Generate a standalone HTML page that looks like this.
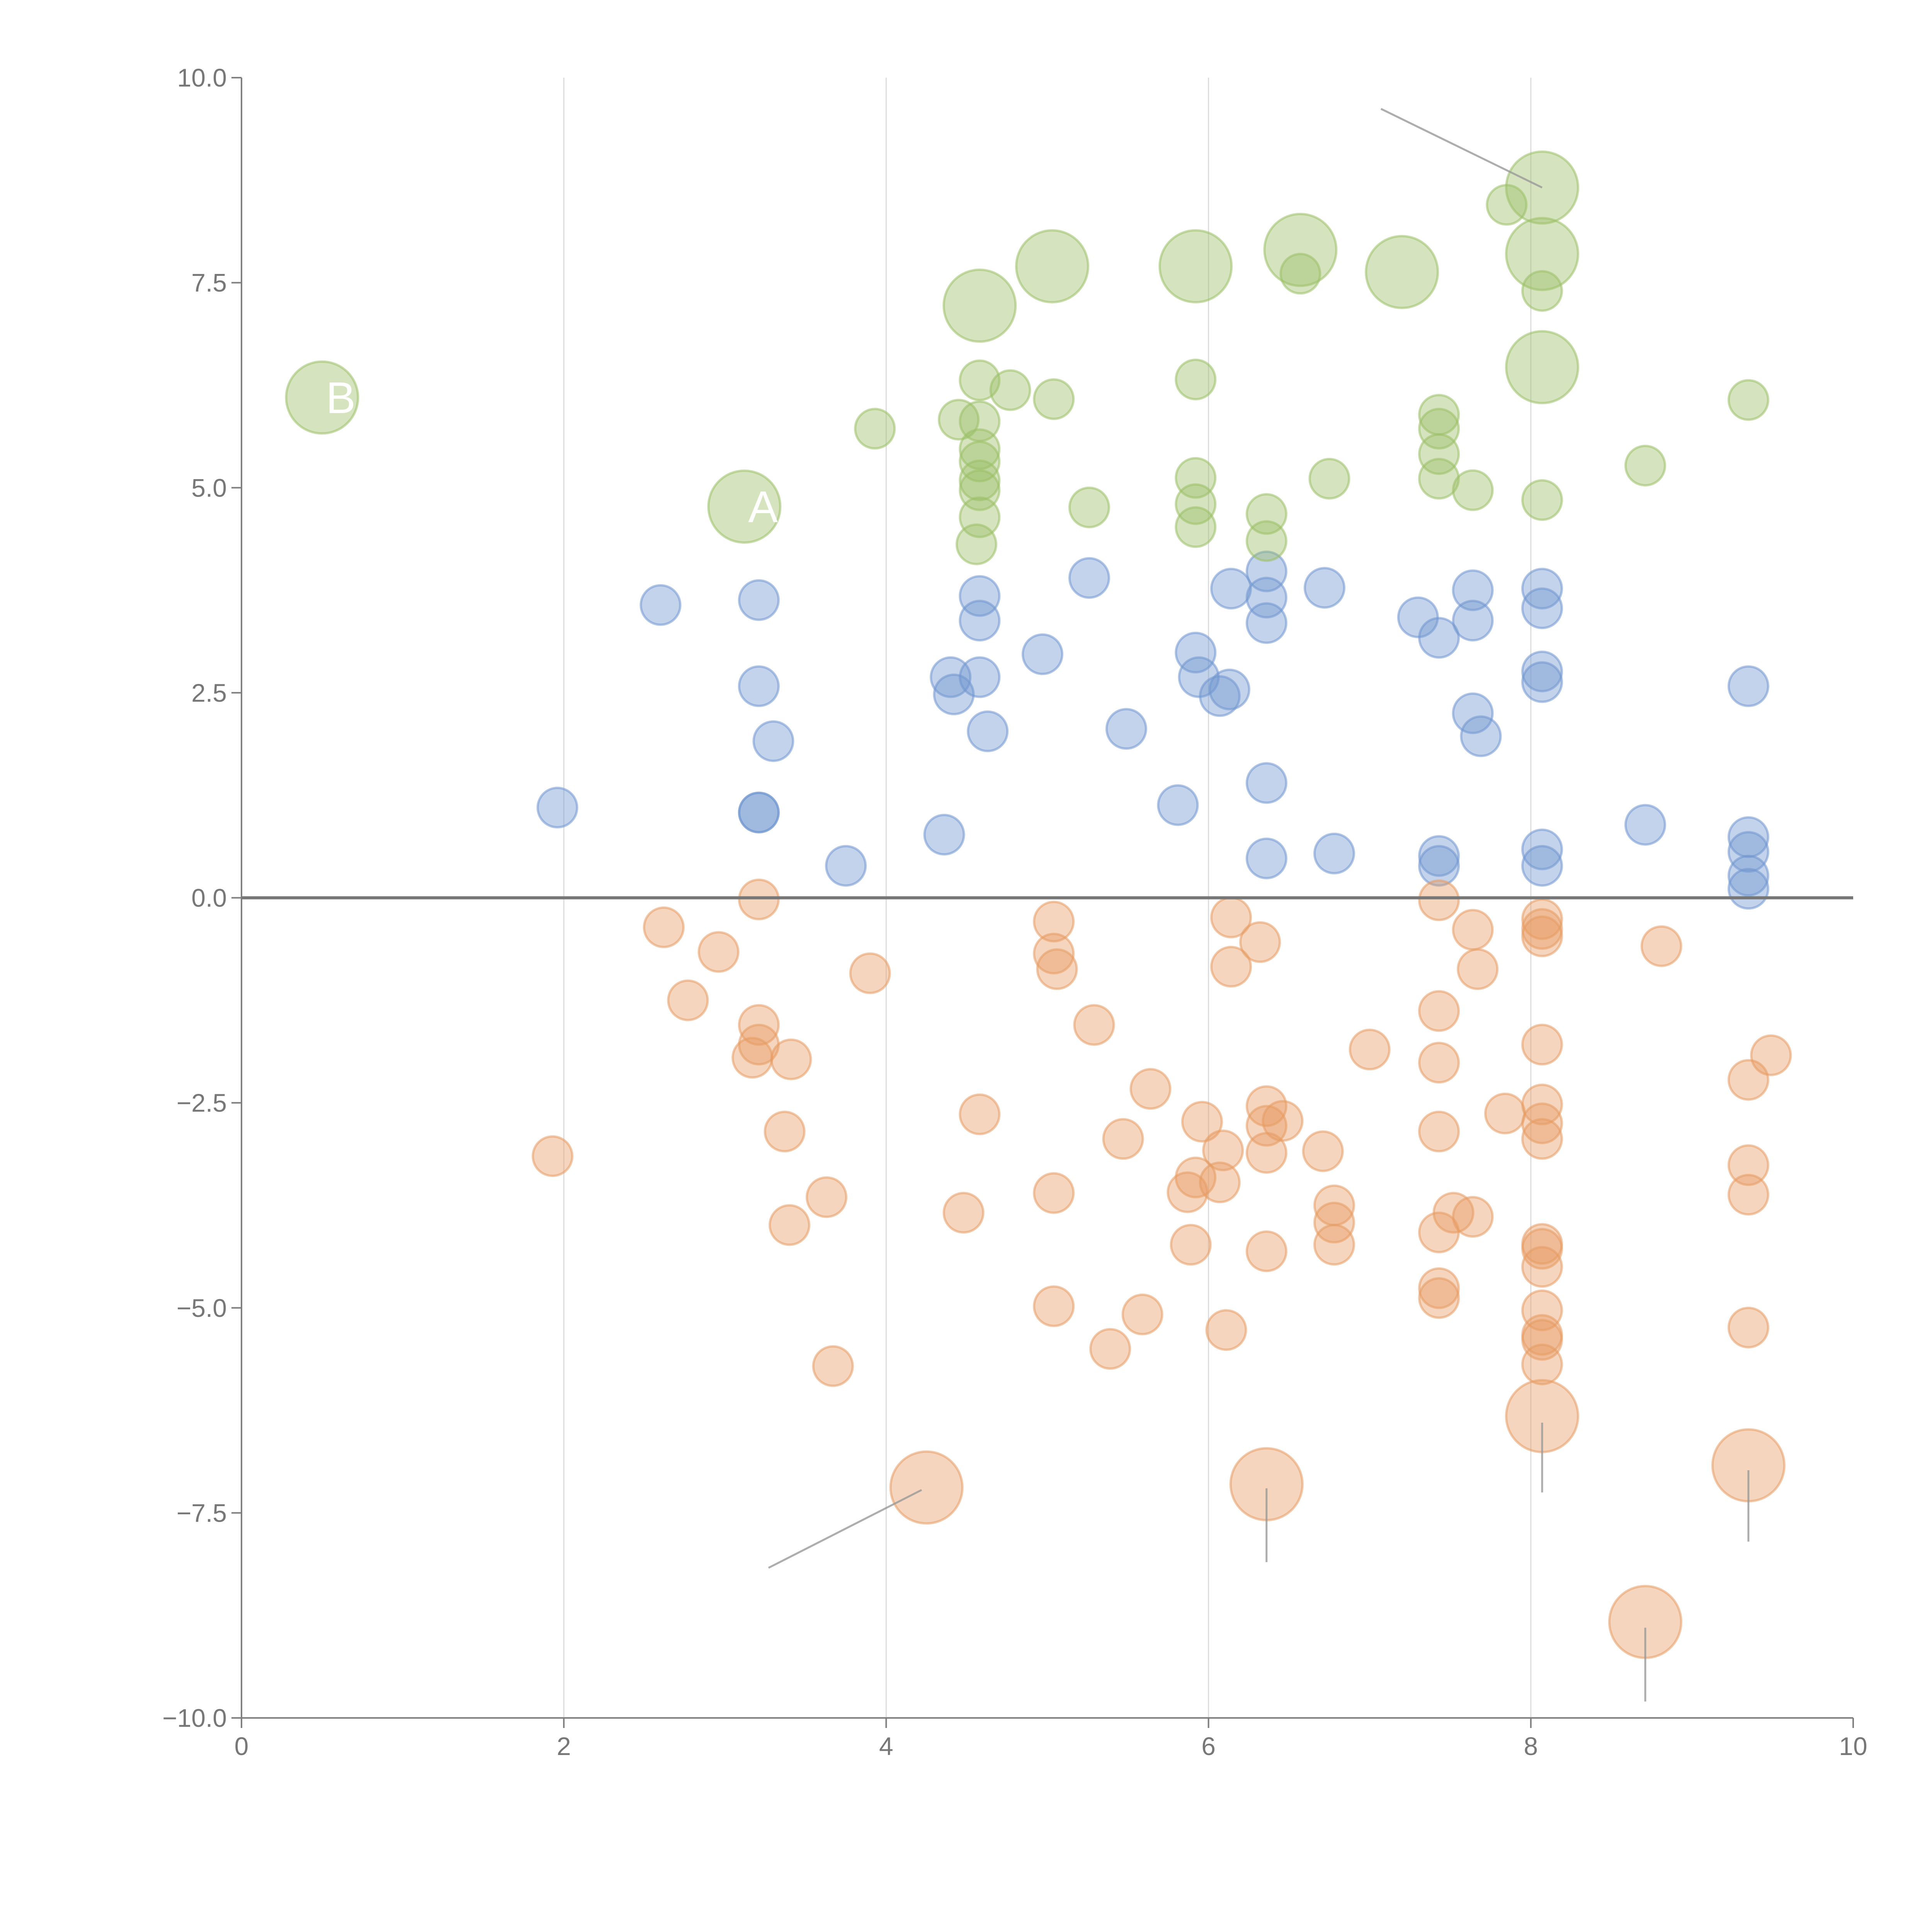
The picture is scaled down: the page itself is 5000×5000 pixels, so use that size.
<!DOCTYPE html>
<html><head><meta charset="utf-8"><style>html,body{margin:0;padding:0;background:#fff}svg{display:block}</style></head>
<body>
<svg id="chart" width="5000" height="5000" viewBox="0 0 5000 5000" xmlns="http://www.w3.org/2000/svg" font-family="Liberation Sans, Arial, sans-serif"></svg>
<script>
const xTicks=[0,2,4,6,8,10];
const yTicks=[-10,-7.5,-5,-2.5,0,2.5,5,7.5,10];
const yTickLabels=["\u221210.0","\u22127.5","\u22125.0","\u22122.5","0.0","2.5","5.0","7.5","10.0"];
const greenX=[3.93,4.45,4.58,4.77,4.58,4.58,4.58,4.58,4.58,4.58,4.56,5.04,5.26,5.92,5.92,5.92,5.92,6.36,6.36,6.75,6.57,7.43,7.43,7.43,7.43,7.64,7.85,8.07,8.07,8.71,9.35];
const greenY=[5.72,5.83,6.31,6.19,5.81,5.47,5.32,5.09,4.97,4.64,4.31,6.08,4.76,6.32,5.12,4.80,4.52,4.68,4.35,5.11,7.61,5.89,5.72,5.41,5.11,4.97,8.45,7.40,4.85,5.27,6.07];
const greenBigX=[0.50,3.12,4.58,5.03,5.92,6.57,7.20,8.07,8.07,8.07];
const greenBigY=[6.10,4.77,7.22,7.70,7.70,7.90,7.63,8.66,7.85,6.47];
const blueX=[2.60,3.21,3.21,3.30,1.96,3.21,3.21,3.75,4.36,4.40,4.42,4.58,4.58,4.58,4.63,4.97,5.26,5.49,5.81,5.92,5.94,6.07,6.14,6.13,6.36,6.36,6.36,6.36,6.36,6.72,6.78,7.30,7.43,7.43,7.43,7.64,7.64,7.64,7.69,8.07,8.07,8.07,8.07,8.07,8.07,8.71,9.35,9.35,9.35,9.35,9.35];
const blueY=[3.57,3.63,2.58,1.91,1.10,1.04,1.04,0.39,0.77,2.69,2.48,3.68,3.38,2.69,2.03,2.97,3.90,2.06,1.13,2.99,2.69,2.46,3.77,2.54,3.98,3.66,3.35,1.40,0.48,3.78,0.54,3.42,3.17,0.51,0.39,3.75,3.38,2.25,1.97,3.77,3.53,2.76,2.63,0.59,0.39,0.89,2.58,0.74,0.56,0.27,0.11];
const orangeX=[2.62,3.21,2.96,2.77,3.21,3.21,3.17,3.41,3.37,3.40,3.63,3.67,3.90,1.93,4.48,4.58,5.04,5.04,5.06,5.29,5.04,5.04,5.47,5.39,5.59,5.64,5.96,5.92,5.87,5.89,6.09,6.07,6.11,6.14,6.14,6.32,6.36,6.36,6.36,6.46,6.36,6.71,6.78,6.78,6.78,7.00,7.43,7.43,7.43,7.43,7.43,7.52,7.43,7.43,7.64,7.67,7.64,7.84,8.07,8.07,8.07,8.07,8.07,8.07,8.07,8.07,8.07,8.07,8.07,8.07,8.07,8.07,8.81,9.35,9.49,9.35,9.35,9.35];
const orangeY=[-0.36,-0.02,-0.66,-1.25,-1.55,-1.79,-1.95,-1.97,-2.85,-3.99,-3.65,-5.71,-0.92,-3.15,-3.84,-2.64,-0.29,-0.68,-0.87,-1.55,-3.60,-4.98,-2.94,-5.50,-5.08,-2.33,-2.73,-3.41,-3.59,-4.23,-3.08,-3.47,-5.27,-0.24,-0.84,-0.54,-2.54,-2.78,-3.11,-2.72,-4.31,-3.09,-3.75,-3.96,-4.23,-1.85,-0.03,-1.38,-2.01,-2.85,-4.08,-3.84,-4.76,-4.88,-0.39,-0.87,-3.89,-2.63,-0.26,-0.38,-0.47,-1.79,-2.52,-2.75,-2.94,-4.22,-4.28,-4.50,-5.03,-5.33,-5.39,-5.69,-0.59,-2.22,-1.92,-3.26,-3.62,-5.24];
const orangeBigX=[4.25,6.36,8.07,9.35,8.71];
const orangeBigY=[-7.19,-7.15,-6.32,-6.92,-8.83];

const X0=625,X1=4796,Y0=4446,Y1=201;
const sx=v=>X0+(v-0)/(10-0)*(X1-X0);
const sy=v=>Y0-(v+10)/20*(Y0-Y1);
const svg=document.getElementById('chart');
const NS='http://www.w3.org/2000/svg';
function mk(tag,attrs){const e=document.createElementNS(NS,tag);for(const k in attrs)e.setAttribute(k,attrs[k]);svg.appendChild(e);return e;}

xTicks.forEach(t=>{if(t>0&&t<10){const l=mk('line',{x1:sx(t),x2:sx(t),y1:sy(10),y2:sy(-10),stroke:'#dcdcdc','stroke-width':3});

}});
const ax=mk('line',{x1:X0,x2:X0,y1:sy(10),y2:Y0,stroke:'#808080','stroke-width':4});


const bx=mk('line',{x1:X0,x2:X1,y1:Y0,y2:Y0,stroke:'#808080','stroke-width':4});


xTicks.forEach(t=>{
 const tk=mk('line',{x1:sx(t),x2:sx(t),y1:Y0,y2:Y0+26,stroke:'#808080','stroke-width':4});
 
 
 const tx=mk('text',{x:sx(t),y:Y0+96,'text-anchor':'middle','font-size':66,fill:'#777'});tx.textContent=String(t);
 
 
});
yTicks.forEach((t,i)=>{
 const tk=mk('line',{x1:X0-26,x2:X0,y1:sy(t),y2:sy(t),stroke:'#808080','stroke-width':4});
 
 
 const tx=mk('text',{x:X0-38,y:sy(t)+23,'text-anchor':'end','font-size':66,fill:'#777'});tx.textContent=yTickLabels[i];
 
 
});
function dots(xs,ys,r,color,name){
 xs.forEach((x,i)=>{const c=mk('circle',{cx:sx(x),cy:sy(ys[i]),r:r,fill:color,'fill-opacity':0.42,stroke:color,'stroke-opacity':0.55,'stroke-width':6});
 
 });
}
dots(blueX,blueY,51,'#6f96cf','blue-point');
dots(orangeX,orangeY,51,'#e69a62','orange-point');
dots(greenX,greenY,51,'#9bbf66','green-point');
dots(greenBigX,greenBigY,93,'#9bbf66','green-big-point');
dots(orangeBigX,orangeBigY,93,'#e69a62','orange-big-point');
const z=mk('line',{x1:X0,x2:X1,y1:sy(0),y2:sy(0),stroke:'#777','stroke-width':8});


const leaders=[[7.07,9.62,8.07,8.66],[3.27,-8.17,4.22,-7.22],[6.36,-7.2,6.36,-8.1],[8.07,-6.4,8.07,-7.25],[9.35,-6.98,9.35,-7.85],[8.71,-8.9,8.71,-9.8]];
leaders.forEach(a=>{const l=mk('line',{x1:sx(a[0]),y1:sy(a[1]),x2:sx(a[2]),y2:sy(a[3]),stroke:'#999','stroke-opacity':0.8,'stroke-width':5});

});
const labs=[[0.5,6.1,'B'],[3.12,4.77,'A']];
labs.forEach(a=>{const t=mk('text',{x:sx(a[0])+10,y:sy(a[1])+40,'font-size':115,fill:'#fff'});t.textContent=a[2];

});
</script>
</body></html>
